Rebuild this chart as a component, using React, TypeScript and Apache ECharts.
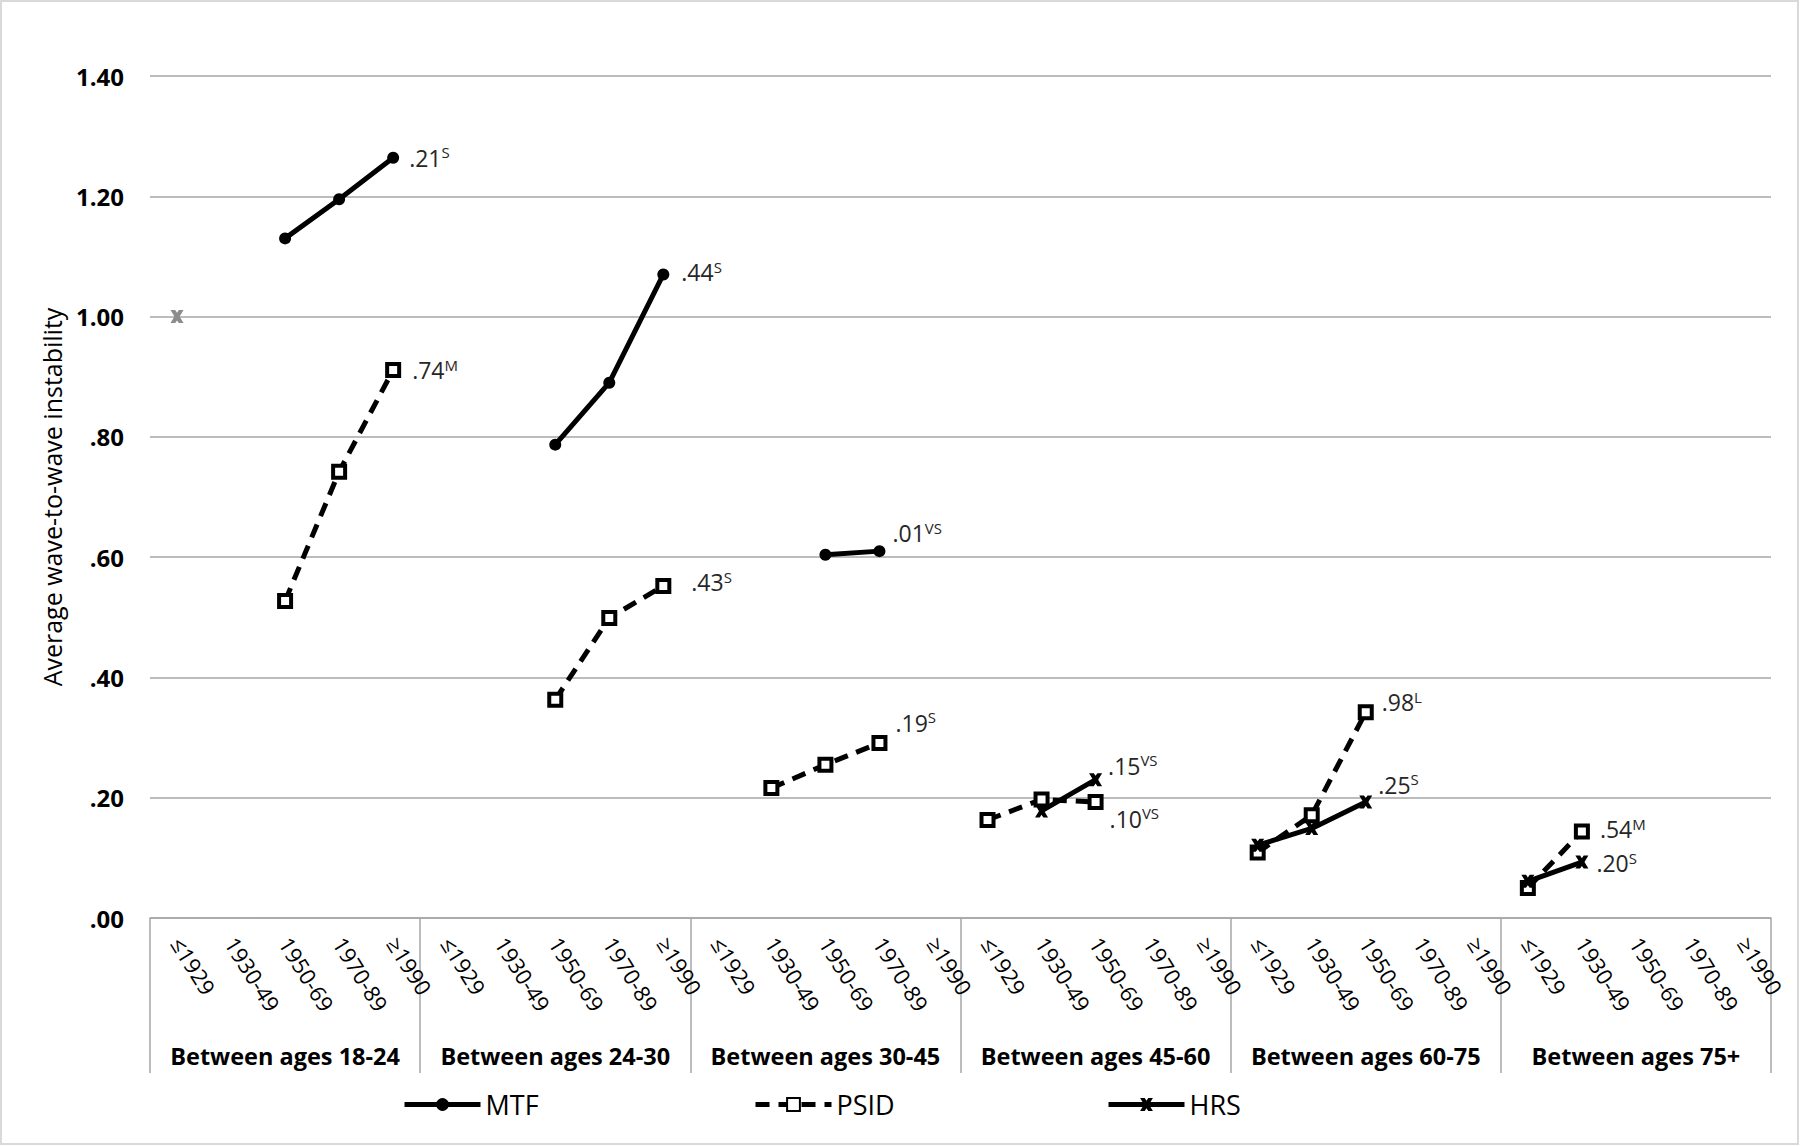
import React, { useEffect, useRef } from "react";
import * as echarts from "echarts";

const FONT = "'Open Sans', 'Noto Sans', sans-serif";

const groups = [
  "Between ages 18-24",
  "Between ages 24-30",
  "Between ages 30-45",
  "Between ages 45-60",
  "Between ages 60-75",
  "Between ages 75+",
];
const cohorts = ["≤1929", "1930-49", "1950-69", "1970-89", "≥1990"];

// values per age group, per cohort
const mtfValues: (number | null)[][] = [
  [null, null, 1.13, 1.195, 1.264],
  [null, null, 0.787, 0.89, 1.07],
  [null, null, 0.604, 0.61, null],
  [null, null, null, null, null],
  [null, null, null, null, null],
  [null, null, null, null, null],
];
const psidValues: (number | null)[][] = [
  [null, null, 0.527, 0.742, 0.911],
  [null, null, 0.363, 0.499, 0.552],
  [null, 0.216, 0.255, 0.291, null],
  [0.163, 0.197, 0.193, null, null],
  [0.109, 0.171, 0.342, null, null],
  [0.05, 0.144, null, null, null],
];
const hrsValues: (number | null)[][] = [
  [null, null, null, null, null],
  [null, null, null, null, null],
  [null, null, null, null, null],
  [null, 0.178, 0.23, null, null],
  [0.121, 0.149, 0.193, null, null],
  [0.061, 0.093, null, null, null],
];
const hrsGreyValues: (number | null)[][] = [
  [1.0, null, null, null, null],
  [null, null, null, null, null],
  [null, null, null, null, null],
  [null, null, null, null, null],
  [null, null, null, null, null],
  [null, null, null, null, null],
];

const yTicks = [0, 0.2, 0.4, 0.6, 0.8, 1.0, 1.2, 1.4];

// annotations: series, group index, cohort index, text, superscript
const annotations = [
  { series: "MTF", group: 0, cohort: 4, text: ".21", sup: "S" },
  { series: "PSID", group: 0, cohort: 4, text: ".74", sup: "M" },
  { series: "MTF", group: 1, cohort: 4, text: ".44", sup: "S" },
  { series: "PSID", group: 1, cohort: 4, text: ".43", sup: "S" },
  { series: "MTF", group: 2, cohort: 3, text: ".01", sup: "VS" },
  { series: "PSID", group: 2, cohort: 3, text: ".19", sup: "S" },
  { series: "HRS", group: 3, cohort: 2, text: ".15", sup: "VS" },
  { series: "PSID", group: 3, cohort: 2, text: ".10", sup: "VS" },
  { series: "PSID", group: 4, cohort: 2, text: ".98", sup: "L" },
  { series: "HRS", group: 4, cohort: 2, text: ".25", sup: "S" },
  { series: "PSID", group: 5, cohort: 1, text: ".54", sup: "M" },
  { series: "HRS", group: 5, cohort: 1, text: ".20", sup: "S" },
];
// label offsets (style), same order as annotations
const labelOffsets = [
  [5, 0],
  [6, 0],
  [7, -2],
  [15, -4],
  [2, -18],
  [3, -20],
  [1, -14],
  [1, 17],
  [3, -10],
  [1, -17],
  [5, -2],
  [3, 1],
];

const xPath =
  "path://M0,0 L3.6,0 L5,2 L6.4,0 L10,0 L7,5 L10,10 L6.4,10 L5,8 L3.6,10 L0,10 L3,5 Z";

const categoryKeys: string[] = [];
groups.forEach((g) => cohorts.forEach((c) => categoryKeys.push(g + "|" + c)));

function buildData(name: string, values: (number | null)[][]) {
  const out: any[] = [];
  values.forEach((grp, gi) =>
    grp.forEach((v, ci) => {
      const ai = annotations.findIndex(
        (a) => a.series === name && a.group === gi && a.cohort === ci
      );
      if (ai >= 0 && v != null) {
        const a = annotations[ai];
        out.push({
          value: v,
          label: {
            show: true,
            position: "right",
            distance: 5,
            offset: labelOffsets[ai],
            formatter: `{a|${a.text}}{s|${a.sup}}`,
            rich: {
              a: { fontSize: 23, fontFamily: FONT, color: "#262626", lineHeight: 26 },
              s: {
                fontSize: 15,
                fontFamily: FONT,
                color: "#262626",
                lineHeight: 15,
                verticalAlign: "top",
              },
            },
          },
        });
      } else {
        out.push(v);
      }
    })
  );
  return out;
}

export default function App() {
  const ref = useRef<HTMLDivElement>(null);
  useEffect(() => {
    if (!ref.current) return;
    const chart = echarts.init(ref.current, null, { renderer: "svg" });
    const fmt = (v: number) => {
      const s = v.toFixed(2);
      return v < 1 ? s.slice(1) : s;
    };
    const legendBase = {
      top: 1086,
      itemWidth: 76,
      itemHeight: 16,
      itemGap: 8,
      textStyle: { fontSize: 27, color: "#000", fontFamily: FONT },
      lineStyle: { width: 5 },
    };
    chart.setOption({
      animation: false,
      backgroundColor: "#fff",
      textStyle: { fontFamily: FONT },
      grid: { left: 150, right: 29, top: 76, bottom: 228, containLabel: false },
      legend: [
        { ...legendBase, data: ["MTF"], left: 397 },
        { ...legendBase, data: ["PSID"], left: 748 },
        { ...legendBase, data: ["HRS"], left: 1101 },
      ],
      xAxis: [
        {
          type: "category",
          data: categoryKeys,
          boundaryGap: true,
          axisLine: { lineStyle: { color: "#A6A6A6", width: 1.5 } },
          axisTick: { show: false },
          axisLabel: {
            interval: 0,
            rotate: -58,
            margin: 21,
            fontSize: 22,
            color: "#000",
            fontFamily: FONT,
            formatter: (v: string) => v.split("|")[1],
          },
        },
        {
          type: "category",
          data: groups,
          position: "bottom",
          boundaryGap: true,
          axisLine: { show: false },
          axisTick: {
            show: true,
            interval: 0,
            length: 155,
            lineStyle: { color: "#A6A6A6", width: 1.5 },
          },
          axisLabel: {
            interval: 0,
            margin: 126,
            fontSize: 23.5,
            fontWeight: "bold",
            color: "#000",
            fontFamily: FONT,
          },
        },
      ],
      yAxis: {
        type: "value",
        min: yTicks[0],
        max: yTicks[yTicks.length - 1],
        interval: 0.2,
        axisLine: { show: false },
        axisTick: { show: false },
        splitLine: { lineStyle: { color: "#A6A6A6", width: 1.5 } },
        axisLabel: {
          formatter: fmt,
          fontSize: 24,
          fontWeight: "bold",
          color: "#000",
          margin: 26,
          fontFamily: FONT,
        },
        name: "Average wave-to-wave instability",
        nameLocation: "middle",
        nameGap: 86,
        nameTextStyle: { fontSize: 25, color: "#000", fontFamily: FONT },
      },
      series: [
        {
          name: "MTF",
          type: "line",
          data: buildData("MTF", mtfValues),
          connectNulls: false,
          symbol: "circle",
          symbolSize: 12,
          itemStyle: { color: "#000" },
          lineStyle: { color: "#000", width: 5 },
          z: 3,
        },
        {
          name: "PSID",
          type: "line",
          data: buildData("PSID", psidValues),
          connectNulls: false,
          symbol: "rect",
          symbolSize: 12,
          itemStyle: { color: "#fff", borderColor: "#000", borderWidth: 4 },
          lineStyle: { color: "#000", width: 5, type: [14, 9] },
          z: 4,
        },
        {
          name: "HRS",
          type: "line",
          data: buildData("HRS", hrsValues),
          connectNulls: false,
          symbol: xPath,
          symbolSize: 13,
          symbolKeepAspect: true,
          itemStyle: { color: "#000" },
          lineStyle: { color: "#000", width: 5 },
          z: 5,
        },
        {
          name: "HRS grey",
          type: "line",
          data: buildData("HRS grey", hrsGreyValues),
          symbol: xPath,
          symbolSize: 13,
          itemStyle: { color: "#8C8C8C" },
          lineStyle: { color: "#8C8C8C", width: 5 },
          z: 5,
        },
      ],
      graphic: [
        {
          type: "rect",
          shape: { x: 1, y: 1, width: 1797, height: 1143 },
          style: { fill: "none", stroke: "#D9D9D9", lineWidth: 2 },
          silent: true,
        },
      ],
    });
    return () => chart.dispose();
  }, []);
  return (
    <div
      ref={ref}
      style={{ position: "absolute", left: 0, top: 0, width: 1800, height: 1146 }}
    />
  );
}
